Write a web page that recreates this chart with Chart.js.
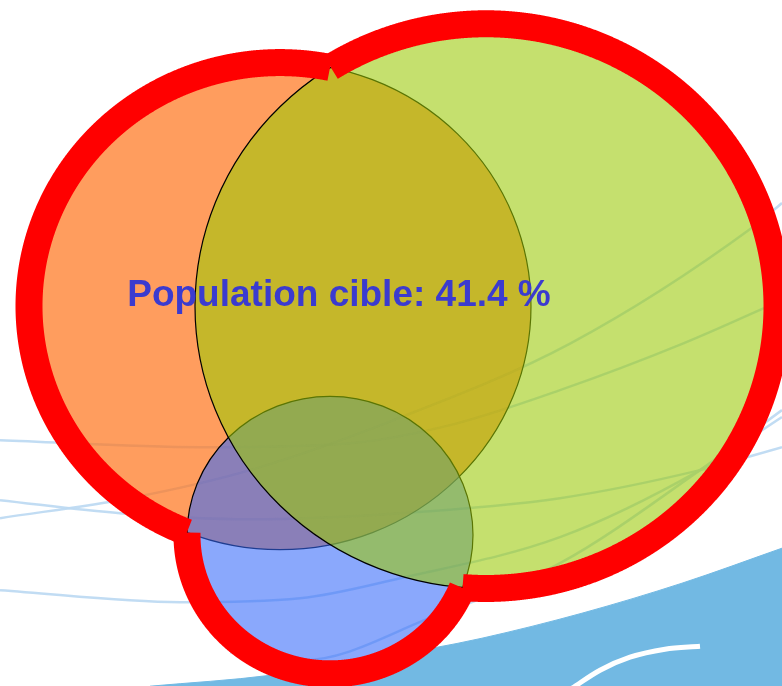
<!DOCTYPE html>
<html>
<head>
<meta charset="utf-8">
<script src="https://cdn.jsdelivr.net/npm/chart.js@4.4.1/dist/chart.umd.min.js"></script>
<style>
  html, body { margin: 0; padding: 0; background: #ffffff; }
  #wrap { width: 782px; height: 686px; position: relative; }
</style>
</head>
<body>
<div id="wrap"><canvas id="chart"></canvas></div>
<script>
// venn sets, in drawing order (orange, blue, green)
const setNames = ["A", "C", "B"];
const centerX = [280, 330, 486];
const centerY = [315.5, 551.5, 315.5];
const radius = [251, 143, 291];
const fillColors = ["rgba(255,116,25,0.7)", "rgba(53,105,250,0.58)", "rgba(155,202,5,0.58)"];

const labelText = "Population cible: 41.4 %";
const labelX = 339;
const labelY = 315.5;

// background slide decoration (x px, y px)
const swooshA = [[0,518],[130,498],[250,470],[391,421],[571,343],[753,227],[782,203]];
const swooshB = [[0,440],[200,447],[350,443],[450,425],[560,390],[684,343],[782,300]];
const swooshC = [[0,500],[120,513],[250,519],[400,513],[560,498],[700,470],[782,447]];
const swooshD = [[0,590],[180,602],[300,598],[400,578],[560,537],[700,470],[782,417]];
const swooshE = [[230,652],[303,660],[432,617],[560,563],[700,470],[782,410]];
const waveEdge = [[150,686],[271,675],[432,648],[482,638],[582,613],[682,583],[782,548]];
const waveCrest = [[572,688],[600,670],[630,657],[665,649],[700,646]];

const pt = (p) => ({x: p[0], y: p[1] / 0.97});

function swoosh(points) {
  return {
    data: points.map(pt),
    showLine: true,
    borderColor: "rgba(190,218,242,0.95)",
    borderWidth: 2.5,
    pointRadius: 0,
    cubicInterpolationMode: "monotone",
    fill: false,
    order: 1
  };
}

function insideOther(shapes, i, x, y) {
  for (let j = 0; j < shapes.length; j++) {
    if (j === i) continue;
    const s = shapes[j];
    const dx = (x - s.cx) / s.rx, dy = (y - s.cy) / s.ry;
    if (dx * dx + dy * dy < 1) return true;
  }
  return false;
}

const vennPlugin = {
  id: "venn",
  afterDatasetsDraw(chart) {
    const ctx = chart.ctx;
    const xs = chart.scales.x, ys = chart.scales.y;
    const shapes = setNames.map((n, i) => {
      const cx = xs.getPixelForValue(centerX[i]);
      const cy = ys.getPixelForValue(centerY[i]);
      return {
        cx, cy,
        rx: Math.abs(xs.getPixelForValue(centerX[i] + radius[i]) - cx),
        ry: Math.abs(ys.getPixelForValue(centerY[i] + radius[i]) - cy)
      };
    });

    ctx.save();
    // fills with thin outlines
    shapes.forEach((s, i) => {
      ctx.beginPath();
      ctx.ellipse(s.cx, s.cy, s.rx, s.ry, 0, 0, Math.PI * 2);
      ctx.fillStyle = fillColors[i];
      ctx.fill();
      ctx.lineWidth = 1.2;
      ctx.strokeStyle = "#000000";
      ctx.stroke();
    });

    // thick red outline of the union, one arc per set
    const N = 2880;
    ctx.strokeStyle = "#ff0000";
    ctx.lineWidth = 27;
    ctx.lineCap = "butt";
    ctx.lineJoin = "round";
    shapes.forEach((s, i) => {
      const out = [];
      for (let k = 0; k < N; k++) {
        const t = k / N * Math.PI * 2;
        out.push(!insideOther(shapes, i, s.cx + s.rx * Math.cos(t), s.cy + s.ry * Math.sin(t)));
      }
      let start = out.indexOf(false);
      if (start < 0) start = 0;
      let k = 0;
      while (k < N) {
        const idx = (start + k) % N;
        if (!out[idx]) { k++; continue; }
        ctx.beginPath();
        let first = true;
        while (k < N && out[(start + k) % N]) {
          const t = ((start + k) % N) / N * Math.PI * 2;
          const x = s.cx + s.rx * Math.cos(t), y = s.cy + s.ry * Math.sin(t);
          if (first) { ctx.moveTo(x, y); first = false; } else ctx.lineTo(x, y);
          k++;
        }
        ctx.stroke();
      }
    });

    // label
    ctx.font = "bold 37px 'Liberation Sans', Arial, sans-serif";
    ctx.fillStyle = "#3b3bcf";
    ctx.textAlign = "center";
    ctx.textBaseline = "alphabetic";
    ctx.fillText(labelText, xs.getPixelForValue(labelX), ys.getPixelForValue(labelY));
    ctx.restore();
  }
};

const ctx = document.getElementById("chart");
new Chart(ctx, {
  type: "scatter",
  data: {
    datasets: [
      {
        data: waveEdge.map(pt),
        showLine: true,
        borderColor: "#72b9e3",
        backgroundColor: "#72b9e3",
        borderWidth: 1,
        pointRadius: 0,
        cubicInterpolationMode: "monotone",
        fill: {value: 707},
        order: 10
      },
      {
        data: waveCrest.map(pt),
        showLine: true,
        borderColor: "#ffffff",
        borderWidth: 5,
        pointRadius: 0,
        cubicInterpolationMode: "monotone",
        fill: false,
        order: 5
      },
      swoosh(swooshA),
      swoosh(swooshB),
      swoosh(swooshC),
      swoosh(swooshD),
      swoosh(swooshE)
    ]
  },
  options: {
    responsive: true,
    maintainAspectRatio: false,
    animation: false,
    events: [],
    layout: { padding: 0 },
    scales: {
      x: { display: false, min: 0, max: 782 },
      y: { display: false, min: 0, max: 707, reverse: true }
    },
    plugins: {
      legend: { display: false },
      tooltip: { enabled: false }
    }
  },
  plugins: [vennPlugin]
});
</script>
</body>
</html>
